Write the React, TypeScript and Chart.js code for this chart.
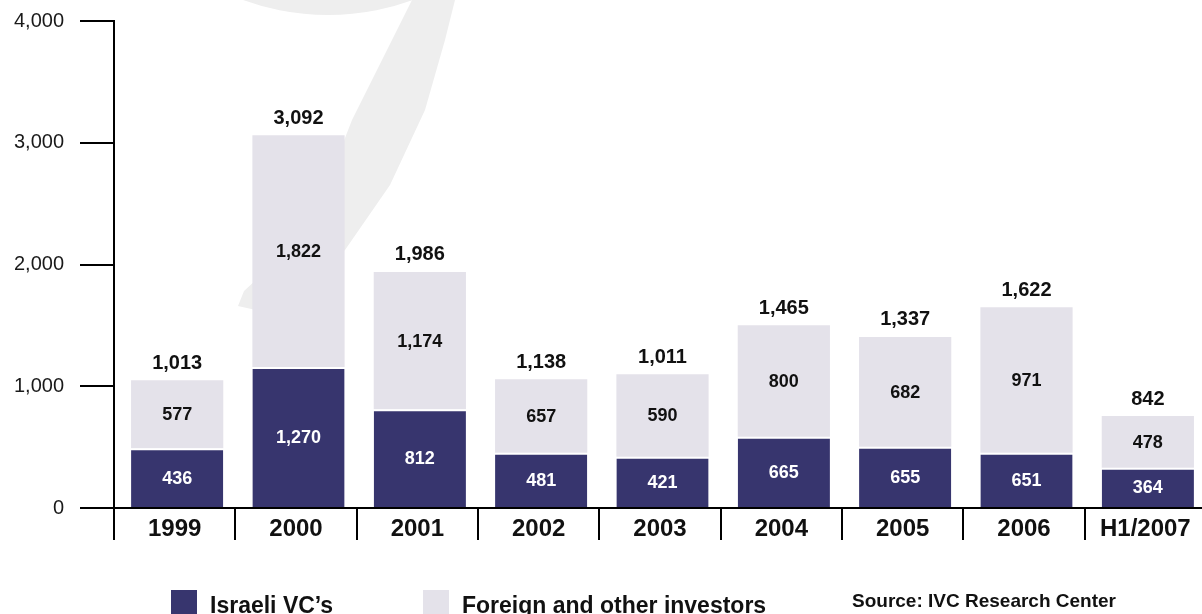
import React, { useEffect, useRef } from "react";
import { Chart, registerables } from "chart.js";

Chart.register(...registerables);

const categories = ["1999", "2000", "2001", "2002", "2003", "2004", "2005", "2006", "H1/2007"];
// bar heights as drawn in the picture
const israeliValues = [490, 1159, 812, 454, 421, 585, 503, 454, 331];
const foreignValues = [560, 1903, 1127, 604, 678, 916, 902, 1195, 424];
// printed labels
const israeliLabels = ["436", "1,270", "812", "481", "421", "665", "655", "651", "364"];
const foreignLabels = ["577", "1,822", "1,174", "657", "590", "800", "682", "971", "478"];
const totalLabels = ["1,013", "3,092", "1,986", "1,138", "1,011", "1,465", "1,337", "1,622", "842"];
const yTicks = [0, 1000, 2000, 3000, 4000];
const legendLabels = ["Israeli VC\u2019s", "Foreign and other investors"];
const sourceText = "Source: IVC Research Center";

const DARK = "rgb(55,53,110)";
const LIGHT = "rgb(228,226,234)";
const FONT = '"Liberation Sans", Arial, sans-serif';
const SHIFT = 2.5;

const watermarkPlugin = {
  id: "watermark",
  beforeDatasetsDraw(chart: any) {
    const ctx = chart.ctx;
    ctx.save();
    ctx.fillStyle = "#eeeeee";
    ctx.beginPath();
    ctx.moveTo(412, 0);
    ctx.lineTo(455, 0);
    ctx.lineTo(445, 40);
    ctx.lineTo(425, 110);
    ctx.lineTo(390, 185);
    ctx.lineTo(345, 250);
    ctx.lineTo(292, 295);
    ctx.lineTo(256, 310);
    ctx.lineTo(238, 306);
    ctx.lineTo(244, 291);
    ctx.lineTo(282, 256);
    ctx.lineTo(324, 192);
    ctx.lineTo(352, 120);
    ctx.lineTo(392, 40);
    ctx.closePath();
    ctx.fill();
    ctx.beginPath();
    ctx.arc(328, -233, 248, 0, Math.PI);
    ctx.closePath();
    ctx.fill();
    ctx.restore();
  },
};

const shiftPlugin = {
  id: "barShift",
  beforeDatasetsDraw(chart: any) {
    chart.ctx.save();
    chart.ctx.translate(SHIFT, 0);
  },
  afterDatasetsDraw(chart: any) {
    chart.ctx.restore();
  },
};

const labelPlugin = {
  id: "barLabels",
  afterDatasetsDraw(chart: any) {
    const ctx = chart.ctx;
    ctx.save();
    ctx.textAlign = "center";
    ctx.textBaseline = "middle";
    const m0 = chart.getDatasetMeta(0).data;
    const m1 = chart.getDatasetMeta(1).data;
    m0.forEach((bar: any, i: number) => {
      ctx.font = `bold 18px ${FONT}`;
      ctx.fillStyle = "#ffffff";
      ctx.fillText(israeliLabels[i], bar.x + SHIFT, (bar.y + bar.base) / 2 + 1);
    });
    m1.forEach((bar: any, i: number) => {
      ctx.font = `bold 18px ${FONT}`;
      ctx.fillStyle = "#111111";
      ctx.fillText(foreignLabels[i], bar.x + SHIFT, (bar.y + bar.base) / 2 + 1);
      ctx.font = `bold 20px ${FONT}`;
      ctx.fillText(totalLabels[i], bar.x + SHIFT, bar.y - 17);
    });
    ctx.restore();
  },
  afterDraw(chart: any) {
    const ctx = chart.ctx;
    ctx.save();
    ctx.fillStyle = DARK;
    ctx.fillRect(171, 590, 26, 24);
    ctx.fillStyle = LIGHT;
    ctx.fillRect(423, 590, 26, 24);
    ctx.fillStyle = "#111111";
    ctx.textAlign = "left";
    ctx.textBaseline = "alphabetic";
    ctx.font = `bold 23px ${FONT}`;
    ctx.fillText(legendLabels[0], 210, 613);
    ctx.fillText(legendLabels[1], 462, 613);
    ctx.font = `bold 19px ${FONT}`;
    ctx.fillText(sourceText, 852, 607);
    ctx.restore();
  },
};

export default function App() {
  const ref = useRef<HTMLCanvasElement | null>(null);
  useEffect(() => {
    if (!ref.current) return;
    const chart = new Chart(ref.current, {
      type: "bar",
      data: {
        labels: categories,
        datasets: [
          {
            label: legendLabels[0],
            data: israeliValues,
            backgroundColor: DARK,
            borderColor: "#ffffff",
            borderWidth: { top: 2, left: 0, right: 0, bottom: 0 },
            borderSkipped: false,
            barPercentage: 0.76,
            categoryPercentage: 1,
          },
          {
            label: legendLabels[1],
            data: foreignValues,
            backgroundColor: LIGHT,
            borderWidth: 0,
            barPercentage: 0.76,
            categoryPercentage: 1,
          },
        ],
      },
      options: {
        responsive: false,
        animation: false,
        devicePixelRatio: 1,
        layout: { padding: { top: 21, right: 4, left: 0, bottom: 0 } },
        plugins: { legend: { display: false }, tooltip: { enabled: false } },
        scales: {
          x: {
            stacked: true,
            offset: true,
            grid: {
              offset: true,
              drawOnChartArea: false,
              drawTicks: true,
              tickLength: 32,
              color: "#000",
              lineWidth: 2,
            },
            border: { display: true, color: "#000", width: 2 },
            ticks: {
              padding: -25,
              color: "#111",
              font: { family: FONT, size: 24, weight: "bold" },
              maxRotation: 0,
              autoSkip: false,
            },
            afterFit: (s: any) => {
              s.height = 106;
              s.paddingLeft = 0;
              s.paddingRight = 0;
            },
          },
          y: {
            stacked: true,
            min: 0,
            max: 4000,
            afterBuildTicks: (s: any) => {
              s.ticks = yTicks.map((v) => ({ value: v }));
            },
            grid: {
              drawOnChartArea: false,
              drawTicks: true,
              tickLength: 34,
              color: "#000",
              lineWidth: 2,
            },
            border: { display: true, color: "#000", width: 2 },
            ticks: {
              padding: 16,
              color: "#1a1a1a",
              font: { family: FONT, size: 20 },
              callback: (v: any) => Number(v).toLocaleString("en-US"),
            },
            afterFit: (s: any) => {
              s.width = 114;
              s.paddingTop = 0;
              s.paddingBottom = 0;
            },
          },
        },
      },
      plugins: [watermarkPlugin, shiftPlugin, labelPlugin],
    });
    return () => chart.destroy();
  }, []);
  return (
    <div
      style={{
        position: "absolute",
        left: 0,
        top: 0,
        width: 1202,
        height: 614,
        overflow: "hidden",
        background: "#fff",
      }}
    >
      <canvas ref={ref} width={1210} height={614} style={{ display: "block" }} />
    </div>
  );
}
